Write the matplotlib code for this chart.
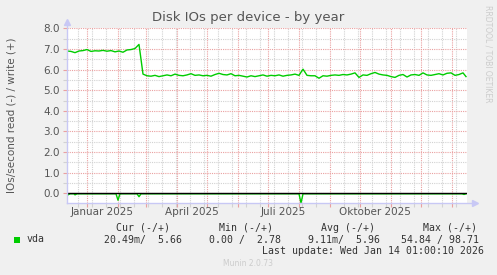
import datetime as dt

import matplotlib
matplotlib.use("Agg")
import matplotlib.dates as mdates
import matplotlib.pyplot as plt
import matplotlib.transforms as mtransforms
import numpy as np

# ---- data ----
start = dt.datetime(2024, 12, 12)
end = start + dt.timedelta(days=400)

write_days = list(range(0, 400, 4)) + [399]
write_vals = [
    6.90, 6.88, 6.82, 6.90, 6.92, 6.97, 6.88, 6.91, 6.90, 6.93,
    6.89, 6.92, 6.86, 6.90, 6.84, 6.95, 6.97, 7.02, 7.22, 5.78,
    5.70, 5.68, 5.72, 5.66, 5.70, 5.74, 5.70, 5.78, 5.72, 5.70,
    5.74, 5.80, 5.72, 5.74, 5.70, 5.72, 5.68, 5.76, 5.82, 5.76,
    5.74, 5.80, 5.70, 5.72, 5.68, 5.64, 5.70, 5.66, 5.70, 5.74,
    5.68, 5.72, 5.70, 5.74, 5.68, 5.72, 5.74, 5.78, 5.72, 6.02,
    5.72, 5.70, 5.70, 5.58, 5.70, 5.68, 5.72, 5.74, 5.72, 5.76,
    5.74, 5.78, 5.84, 5.62, 5.74, 5.72, 5.80, 5.86, 5.78, 5.74,
    5.72, 5.66, 5.62, 5.72, 5.76, 5.64, 5.74, 5.76, 5.72, 5.84,
    5.74, 5.72, 5.76, 5.80, 5.74, 5.82, 5.84, 5.72, 5.76, 5.84,
    5.66,
]

read_days = [0, 1, 3, 7, 8, 10, 49, 51, 53, 70, 72, 74, 232, 234, 236, 395, 397, 399]
read_vals = [-0.02, -0.07, -0.02, -0.02, -0.07, -0.02, -0.02, -0.33, -0.02,
             -0.02, -0.16, -0.02, -0.02, -0.47, -0.02, -0.02, -0.05, -0.02]

y_major = [0, 1, 2, 3, 4, 5, 6, 7, 8]
y_labels = ["0.0", "1.0", "2.0", "3.0", "4.0", "5.0", "6.0", "7.0", "8.0"]
month_labels = ["Januar 2025", "April 2025", "Juli 2025", "Oktober 2025"]
month_label_dates = [dt.datetime(2025, 1, 16), dt.datetime(2025, 4, 16),
                     dt.datetime(2025, 7, 16), dt.datetime(2025, 10, 16)]

legend_header = [("Cur (-/+)", 116), ("Min (-/+)", 219), ("Avg (-/+)", 321), ("Max (-/+)", 423)]
legend_values = [("20.49m/  5.66", 104), ("0.00 /  2.78", 209),
                 ("9.11m/  5.96", 308), ("54.84 / 98.71", 401)]

# ---- style ----
BG = "#f0f0f0"
GREEN = "#00cc00"
AXCOL = "#c8c8f5"
MAJ = "#eaa0a0"
MIN = "#d2d2d2"
TXT = "#555555"

W, H = 497, 275
fig = plt.figure(figsize=(W / 100, H / 100), dpi=100, facecolor=BG)
ax = fig.add_axes([67 / W, 1 - 203.3 / H, 400 / W, 175 / H])
ax.set_facecolor("white")

wd = [start + dt.timedelta(days=d) for d in write_days]
rd = [start + dt.timedelta(days=d) for d in read_days]

ax.set_xlim(start, end)
ax.set_ylim(-0.48, 8.0)

# grid
months = [dt.datetime(2025, m, 1) for m in range(1, 13)] + [dt.datetime(2026, 1, 1)]
biweekly = [dt.datetime(2024, 12, 23) + dt.timedelta(days=14 * k) for k in range(28)]
ax.set_xticks(months)
ax.set_xticks(biweekly, minor=True)
ax.set_yticks(y_major)
ax.set_yticklabels(y_labels)
ax.set_yticks(np.arange(0.5, 8.0, 1.0), minor=True)
ax.set_xticklabels([])
ax.grid(True, which="minor", color=MIN, linestyle=(0, (1, 1)), linewidth=0.8)
ax.grid(True, which="major", color=MAJ, linestyle=(0, (1, 1)), linewidth=0.8)
ax.set_axisbelow(True)
ax.tick_params(axis="both", which="major", length=3, color=MAJ, width=0.8,
               labelsize=7.5, labelcolor=TXT, pad=2)
ax.tick_params(axis="both", which="minor", length=3, color=MIN, width=0.8)

for s in ax.spines.values():
    s.set_visible(False)

# series
ax.plot(wd, write_vals, color=GREEN, linewidth=1.0, zorder=3)
ax.plot(rd, read_vals, color=GREEN, linewidth=1.0, zorder=3)
ax.axhline(0, color="black", linewidth=1.0, zorder=4)

# axes with arrows
ax.plot([0, 0], [0, 1.03], transform=ax.transAxes, color=AXCOL, lw=1, clip_on=False, zorder=5)
ax.plot([0, 1.015], [0, 0], transform=ax.transAxes, color=AXCOL, lw=1, clip_on=False, zorder=5)
ax.plot([0], [1.035], marker="^", markersize=4, color=AXCOL, transform=ax.transAxes, clip_on=False)
ax.plot([1.02], [0], marker=">", markersize=4, color=AXCOL, transform=ax.transAxes, clip_on=False)

# month labels
trans = mtransforms.blended_transform_factory(ax.transData, fig.transFigure)
for lab, d in zip(month_labels, month_label_dates):
    ax.text(mdates.date2num(d), 1 - 212 / H, lab, transform=trans, ha="center", va="center",
            fontsize=7.5, color=TXT)

# titles
fig.text(248 / W, 1 - 18 / H, "Disk IOs per device - by year", ha="center", va="center",
         fontsize=9.5, color=TXT)
fig.text(12 / W, 1 - 115 / H, "IOs/second read (-) / write (+)", rotation=90,
         ha="center", va="center", fontsize=7.5, color=TXT)
fig.text(488 / W, 1 - 54 / H, "RRDTOOL / TOBI OETIKER", rotation=270,
         ha="center", va="center", fontsize=5.5, color="#cccccc")

# legend
fig.patches.append(plt.Rectangle((14 / W, 1 - 243 / H), 6 / W, 6 / H, transform=fig.transFigure,
                                 facecolor=GREEN, edgecolor="none"))
mono = dict(family="DejaVu Sans Mono", fontsize=7.1, color="#333333", va="center")
fig.text(27 / W, 1 - 239.5 / H, "vda", **mono)
for txt, x in legend_header:
    fig.text(x / W, 1 - 228 / H, txt, **mono)
for txt, x in legend_values:
    fig.text(x / W, 1 - 239.5 / H, txt, **mono)
fig.text(262 / W, 1 - 251 / H, "Last update: Wed Jan 14 01:00:10 2026", **mono)
fig.text(248 / W, 1 - 263 / H, "Munin 2.0.73", ha="center", va="center",
         fontsize=5.5, color="#cccccc")

fig.savefig("out.png", dpi=100, facecolor=BG)
